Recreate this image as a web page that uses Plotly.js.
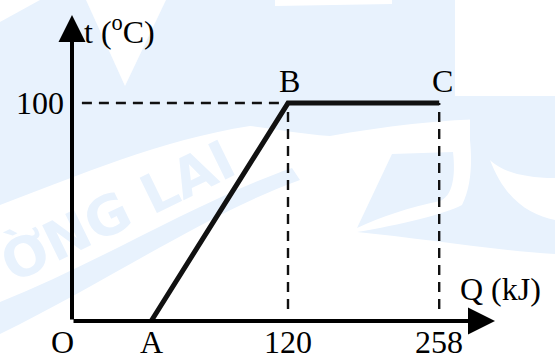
<!DOCTYPE html>
<html>
<head>
<meta charset="utf-8">
<script src="https://cdn.plot.ly/plotly-3.0.1.min.js"></script>
<style>html,body{margin:0;padding:0;background:#fff;}#chart{width:555px;height:356px;}</style>
</head>
<body>
<div id="chart"></div>
<script>
// Schematic diagram (not to scale): positions along Q axis, and their labels
const pointNames = ['A', 'B', 'C'];
const qPos = [44, 120, 204];          // schematic positions of A, B, C on the Q axis
const tValues = [0, 100, 100];        // temperature (°C) at A, B, C
const qTickLabels = ['O', 'A', '120', '258'];
const qTickPos = [0, 44, 120, 204];
const tTickLabels = ['100'];
const tTickVals = [100];
const xAxisEnd = 235;
const yAxisEnd = 140.4;

const FONT = 'Liberation Serif, Times New Roman, serif';
const fs = 32;
const W = 555, H = 356;
const M = {l: 72, r: 60, t: 15, b: 35};
const PW = W - M.l - M.r, PH = H - M.t - M.b;

// watermark decoration helpers (pixel -> paper)
function P(x, y) { return ((x - M.l) / PW).toFixed(4) + ',' + ((H - M.b - y) / PH).toFixed(4); }
function path(cmds) {
  return cmds.map(c => c[0] + ' ' + c.slice(1).map((v, i, a) => i % 2 === 0 ? P(v, a[i + 1]) : null).filter(s => s !== null).join(' ')).join(' ') + ' Z';
}
const WM = '#e8f2fd';
const shapes = [
  {d: path([['M', 0, 0], ['L', 455, 0], ['L', 455, 96], ['L', 555, 96], ['L', 555, 122],
            ['C', 480, 114, 400, 124, 330, 136], ['C', 300, 134, 270, 128, 250, 126],
            ['C', 160, 140, 80, 175, 0, 205]]), c: WM},
  {d: path([['M', 86, 0], ['L', 166, 0], ['L', 125, 86]]), c: '#ffffff'},
  {d: path([['M', 0, 0], ['L', 40, 0], ['L', 0, 22]]), c: '#ffffff'},
  {d: path([['M', 275, 0], ['L', 392, 0], ['L', 392, 4], ['L', 275, 6]]), c: '#ffffff'},
  {d: path([['M', 0, 302], ['C', 100, 262, 200, 200, 292, 168], ['L', 300, 180],
            ['C', 210, 212, 110, 280, 0, 334]]), c: WM},
  {d: path([['M', 392, 154], ['L', 453, 152], ['C', 456, 178, 452, 196, 440, 201],
            ['C', 410, 207, 380, 217, 357, 228]]), c: WM},
  {d: path([['M', 470, 112], ['L', 555, 112], ['L', 555, 178], ['C', 520, 178, 500, 170, 490, 160],
            ['C', 505, 200, 530, 215, 555, 220], ['L', 555, 254], ['C', 490, 250, 420, 238, 357, 232],
            ['C', 400, 225, 445, 214, 462, 205], ['C', 472, 185, 472, 160, 470, 140]]), c: WM}
].map(s => ({type: 'path', xref: 'paper', yref: 'paper', path: s.d, fillcolor: s.c,
             line: {width: 0}, layer: 'below'}));

const traces = [];
const dash = {color: '#111', width: 2.4, dash: '10px,7px'};
// dashed guide lines
traces.push({x: [5.5, qPos[1]], y: [tValues[1], tValues[1]], mode: 'lines',
  line: dash, hoverinfo: 'skip', cliponaxis: false});
traces.push({x: [qPos[1], qPos[1]], y: [5.5, tValues[1]], mode: 'lines',
  line: dash, hoverinfo: 'skip', cliponaxis: false});
traces.push({x: [qPos[2], qPos[2]], y: [5.5, tValues[2]], mode: 'lines',
  line: dash, hoverinfo: 'skip', cliponaxis: false});
// main graph A-B-C
traces.push({x: qPos, y: tValues, mode: 'lines',
  line: {color: '#111', width: 5}, hoverinfo: 'skip', cliponaxis: false});

const annotations = [];
// watermark text
annotations.push({xref: 'paper', yref: 'paper', x: (118 - M.l) / PW, y: (H - M.b - 212) / PH,
  xanchor: 'center', yanchor: 'middle', text: 'ỜNG LAI',
  showarrow: false, textangle: -26, font: {family: 'DejaVu Sans', size: 54, color: WM, weight: 'bold'}});
// axes with arrows
annotations.push({x: xAxisEnd, y: 0, ax: 0, ay: 0, axref: 'x', ayref: 'y', xref: 'x', yref: 'y',
  text: '', showarrow: true, arrowhead: 2, arrowwidth: 4, arrowsize: 1.35, arrowcolor: '#000', standoff: 0, startstandoff: 0});
annotations.push({x: 0, y: yAxisEnd, ax: 0, ay: 0, axref: 'x', ayref: 'y', xref: 'x', yref: 'y',
  text: '', showarrow: true, arrowhead: 2, arrowwidth: 4, arrowsize: 1.35, arrowcolor: '#000', standoff: 0, startstandoff: 0});
// tick labels on Q axis
qTickLabels.forEach((lab, i) => {
  annotations.push({x: qTickPos[i], y: 0, xref: 'x', yref: 'y', text: lab, showarrow: false,
    xanchor: 'center', yanchor: 'top', xshift: i === 0 ? -10 : 0, yshift: -1,
    font: {family: FONT, size: fs, color: '#000'}});
});
// tick label on t axis
tTickLabels.forEach((lab, i) => {
  annotations.push({x: 0, y: tTickVals[i], xref: 'x', yref: 'y', text: lab, showarrow: false,
    xanchor: 'right', yanchor: 'middle', xshift: -6,
    font: {family: FONT, size: fs, color: '#000'}});
});
// point labels B, C
[1, 2].forEach(i => {
  annotations.push({x: qPos[i], y: tValues[i], xref: 'x', yref: 'y', text: pointNames[i], showarrow: false,
    xanchor: 'center', yanchor: 'bottom', xshift: i === 2 ? 3 : 1, yshift: 2,
    font: {family: FONT, size: fs, color: '#000'}});
});
// axis titles
annotations.push({x: 0, y: yAxisEnd, xref: 'x', yref: 'y', text: 't (<sup>o</sup>C)', showarrow: false,
  xanchor: 'left', yanchor: 'top', xshift: 10, yshift: 7, font: {family: FONT, size: fs, color: '#000'}});
annotations.push({x: xAxisEnd, y: 0, xref: 'x', yref: 'y', text: 'Q (kJ)', showarrow: false,
  xanchor: 'right', yanchor: 'bottom', xshift: 48, yshift: 12, font: {family: FONT, size: fs, color: '#000'}});

const layout = {
  width: W, height: H,
  margin: M,
  paper_bgcolor: '#fff', plot_bgcolor: 'rgba(0,0,0,0)',
  showlegend: false,
  xaxis: {range: [0, xAxisEnd], visible: false, fixedrange: true},
  yaxis: {range: [0, yAxisEnd], visible: false, fixedrange: true},
  shapes: shapes,
  annotations: annotations
};

Plotly.newPlot('chart', traces, layout, {staticPlot: true, displayModeBar: false});
</script>
</body>
</html>
